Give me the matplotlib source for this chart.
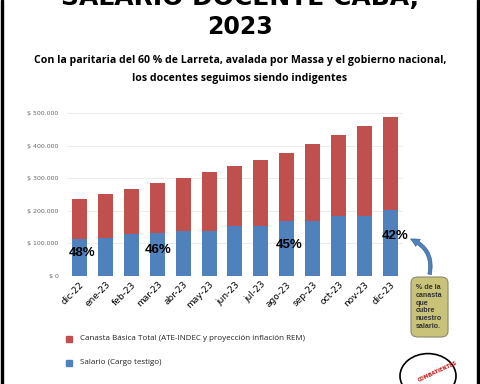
import matplotlib.pyplot as plt
from matplotlib.patches import FancyBboxPatch, FancyArrowPatch, Circle, Rectangle
from matplotlib.ticker import FuncFormatter

# Data
meses = ['dic-22', 'ene-23', 'feb-23', 'mar-23', 'abr-23', 'may-23', 'jun-23',
         'jul-23', 'ago-23', 'sep-23', 'oct-23', 'nov-23', 'dic-23']
canasta = [237000, 252000, 267000, 284000, 300000, 319000, 337000,
           356000, 377000, 406000, 434000, 462000, 490000]
salario = [113000, 115000, 129000, 130000, 138000, 138000, 152000,
           153000, 168000, 168000, 184000, 184000, 203000]
porcentajes = {0: '48%', 3: '46%', 8: '45%', 12: '42%'}

rojo = '#C0504D'
azul = '#4F81BD'

fig = plt.figure(figsize=(4.8, 3.84), dpi=100)
ax = fig.add_axes([0.139, 0.282, 0.701, 0.423])

x = range(len(meses))
resto = [c - s for c, s in zip(canasta, salario)]
ax.bar(x, salario, width=0.58, color=azul, zorder=3)
ax.bar(x, resto, width=0.58, bottom=salario, color=rojo, zorder=3)

ax.set_xlim(-0.5, len(meses) - 0.5)
ax.set_ylim(0, 500000)
ax.set_yticks(range(0, 500001, 100000))
ax.yaxis.set_major_formatter(FuncFormatter(lambda v, p: '$ ' + f'{int(v):,}'.replace(',', '.')))
ax.tick_params(axis='y', labelsize=4.5, labelcolor='#666666', length=0, pad=6)
ax.set_xticks(list(x))
ax.set_xticklabels(meses, rotation=45, ha='right', rotation_mode='anchor', fontsize=6.5)
ax.tick_params(axis='x', length=0, pad=3)
ax.grid(axis='y', color='#e8e8e8', linewidth=0.6, zorder=0)
for s in ax.spines.values():
    s.set_visible(False)
ax.axhline(0, color='#d9d9d9', linewidth=0.6, zorder=2)

# percentage labels
pos = {0: (0.1, 70000), 3: (3.05, 79000), 8: (8.1, 94000), 12: (12.2, 122000)}
for i, txt in porcentajes.items():
    ax.text(pos[i][0], pos[i][1], txt, ha='center', va='center', family='Liberation Sans',
            fontsize=9.5, fontweight='bold', color='black', zorder=5)

# titles
fig.text(0.5, 1 - 5 / 384, 'SALARIO DOCENTE CABA,', ha='center', va='baseline',
         fontsize=18, fontweight='bold')
fig.text(0.5, 1 - 27 / 384, '2023', ha='center', va='center',
         fontsize=17, fontweight='bold')
fig.text(0.5, 1 - 60 / 384, 'Con la paritaria del 60 % de Larreta, avalada por Massa y el gobierno nacional,',
         ha='center', va='center', fontsize=7.6, fontweight='bold', family='Open Sans')
fig.text(0.5, 1 - 79 / 384, 'los docentes seguimos siendo indigentes',
         ha='center', va='center', fontsize=7.6, fontweight='bold', family='Open Sans')

# legend
fig.patches.append(Rectangle((66 / 480, 1 - 342 / 384), 6 / 480, 6 / 384,
                             transform=fig.transFigure, color=rojo))
fig.text(80 / 480, 1 - 339 / 384, 'Canasta Básica Total (ATE-INDEC y proyección inflación REM)',
         va='center', fontsize=5.8, family='Open Sans', color='#222222')
fig.patches.append(Rectangle((66 / 480, 1 - 366 / 384), 6 / 480, 6 / 384,
                             transform=fig.transFigure, color=azul))
fig.text(80 / 480, 1 - 363 / 384, 'Salario (Cargo testigo)',
         va='center', fontsize=5.8, family='Open Sans', color='#222222')

# note box and arrow
fig.patches.append(FancyBboxPatch((411 / 480, 1 - 337 / 384), 37 / 480, 60 / 384,
                                  boxstyle='round,pad=0,rounding_size=0.015',
                                  transform=fig.transFigure, facecolor='#C9C37A',
                                  edgecolor='#8a8a70', linewidth=0.8))
fig.text(416 / 480, 1 - 307 / 384, '% de la\ncanasta\nque\ncubre\nnuestro\nsalario.',
         va='center', ha='left', fontsize=5.1, fontweight='bold', color='#333333',
         family='Liberation Sans', linespacing=1.15)
fig.patches.append(FancyArrowPatch((429 / 480, 1 - 277 / 384), (408 / 480, 1 - 238 / 384),
                                   transform=fig.transFigure, connectionstyle='arc3,rad=0.45',
                                   arrowstyle='simple,head_width=6,head_length=6,tail_width=2.5',
                                   facecolor=azul, edgecolor='#3a6595', linewidth=0.5))

# logo
fig.patches.append(Circle((428 / 480, 1 - 376 / 384), 28 / 480, transform=fig.transFigure,
                          facecolor='white', edgecolor='black', linewidth=1.2))
fig.text(438 / 480, 1 - 372 / 384, 'COMBATIENTES', rotation=25, ha='center', va='center',
         fontsize=3.5, fontweight='bold', color='#cc1111')

# frame edges
fig.patches.append(Rectangle((0.002, 0), 0.004, 1, transform=fig.transFigure, color='black'))
fig.patches.append(Rectangle((0.994, 0), 0.004, 1, transform=fig.transFigure, color='black'))

fig.savefig('out.png', dpi=100)
